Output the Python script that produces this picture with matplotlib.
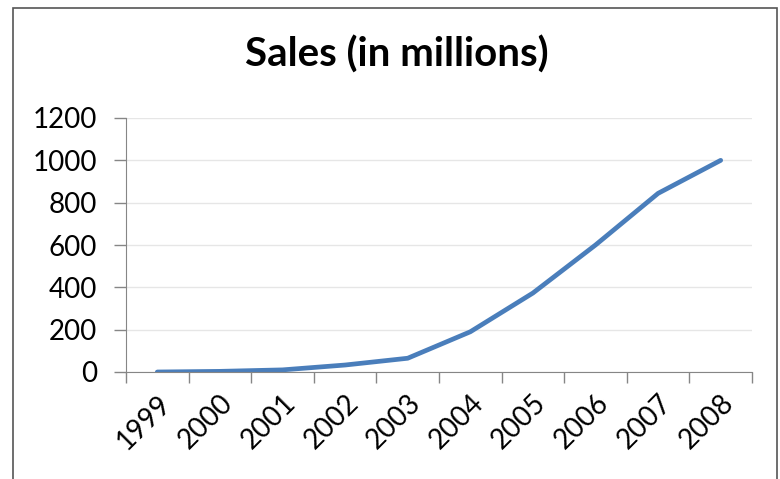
import matplotlib.pyplot as plt
from matplotlib.patches import Rectangle

# data
years = ['1999', '2000', '2001', '2002', '2003', '2004', '2005', '2006', '2007', '2008']
sales = [0, 3, 10, 33, 65, 190, 373, 600, 844, 1000]
yticks = [0, 200, 400, 600, 800, 1000, 1200]

plt.rcParams['font.family'] = ['Lato', 'DejaVu Sans']

fig = plt.figure(figsize=(7.8, 4.79), dpi=100)
ax = fig.add_axes([126 / 780, 1 - 372 / 479, 626 / 780, 254 / 479])

x = [i + 0.5 for i in range(len(years))]
ax.plot(x, sales, color='#4a7ebb', linewidth=3.4, solid_capstyle='round')

ax.set_xlim(0, len(years))
ax.set_ylim(0, 1200)
ax.set_yticks(yticks)
ax.set_yticklabels([str(v) for v in yticks], fontsize=20)
ax.set_xticks(range(len(years) + 1))
ax.set_xticklabels([''] * (len(years) + 1))
ax.set_xticks(x, minor=True)
ax.set_xticklabels(years, minor=True, fontsize=20, rotation=45,
                   ha='right', rotation_mode='anchor')
ax.tick_params(axis='x', which='minor', length=0, pad=13)
ax.tick_params(axis='x', which='major', length=8, color='#868686', width=1)
ax.tick_params(axis='y', length=9, color='#868686', width=1, pad=12)

ax.grid(axis='y', color='#e6e6e6', linewidth=1)
ax.set_axisbelow(True)
for s in ['top', 'right']:
    ax.spines[s].set_visible(False)
ax.spines['left'].set_color('#868686')
ax.spines['bottom'].set_color('#868686')

fig.text(397 / 780, 1 - 55 / 479, 'Sales (in millions)', fontsize=29,
         fontweight='bold', ha='center', va='center')

# outer frame of the chart
fig.patches.append(Rectangle((13 / 780, -0.1), 764 / 780, 1.1 - 8 / 479,
                             transform=fig.transFigure, fill=False,
                             edgecolor='#555555', linewidth=1.2))

fig.savefig('out.png', dpi=100)
